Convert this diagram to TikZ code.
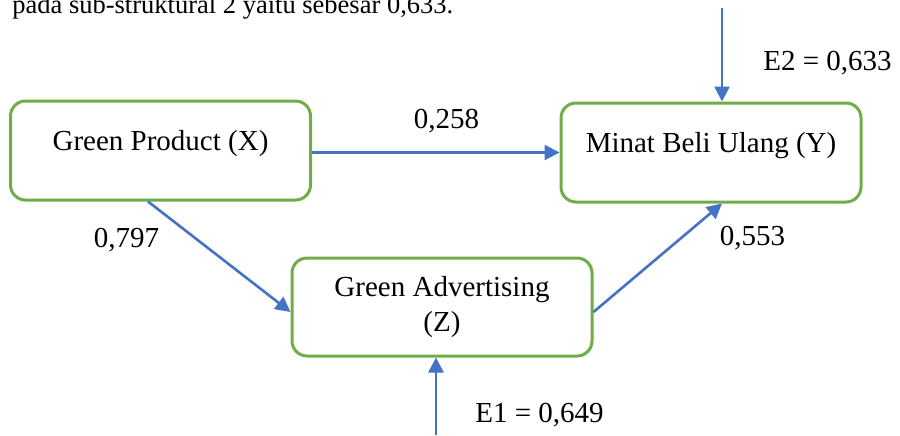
\documentclass[tikz,border=0pt]{standalone}
\usepackage{fontspec}
\setmainfont{Liberation Serif}
\usetikzlibrary{arrows.meta}
\definecolor{boxgreen}{HTML}{70AD47}
\definecolor{arrblue}{HTML}{4472C4}
\tikzset{
  varbox/.style={draw=boxgreen, line width=1.5pt, rounded corners=7.5pt,
    minimum width=150pt, minimum height=49.5pt, align=center, inner sep=2pt,
    font=\fontsize{14.5pt}{17.5pt}\selectfont},
  topbox/.style={varbox, text height=10pt, text depth=10.5pt},
  arr/.style={draw=arrblue, line width=1.3pt, -{Triangle[length=7.5pt,width=7.5pt]}},
  lbl/.style={inner sep=0pt, font=\fontsize{14.5pt}{17.5pt}\selectfont}
}
\begin{document}
\begin{tikzpicture}[x=0.5pt,y=-0.5pt]
\clip (0,0) rectangle (900,435);
\fill[white] (0,0) rectangle (900,435);
% top text (cut off by the page edge, as in the reference)
\node[inner sep=0pt, anchor=base west, font=\fontsize{13.25pt}{16pt}\selectfont] (top) at (12,13) {pada sub-struktural 2 yaitu sebesar 0,633.};
% boxes
\node[topbox] (X) at (160.5,150.5) {Green Product (X)};
\node[topbox] (Y) at (711,152.5) {Minat Beli Ulang (Y)};
\node[varbox, minimum height=49pt] (Z) at (442,307) {Green Advertising\\(Z)};
% free ends of error arrows
\coordinate (e2) at (722,8);
\coordinate (e1) at (436,435);
% connectors
\draw[arr] (X.east |- Y.west) -- (Y.west);
\draw[arr] ([xshift=-6.25pt]X.south) -- ([yshift=-2.5pt]Z.west);
\draw[arr] ([yshift=-2.5pt]Z.east) -- ([xshift=5.5pt]Y.south);
\draw[arr] (e2) -- (Y.north -| e2);
\draw[arr] (e1) -- (Z.south -| e1);
% labels
\node[lbl, anchor=base] (l258) at (446.5,128) {0,258};
\node[lbl, anchor=base] (l797) at (126.5,247) {0,797};
\node[lbl, anchor=base] (l553) at (752.5,245) {0,553};
\node[lbl, anchor=base west] (lE2) at (763,70) {E2 = 0,633};
\node[lbl, anchor=base west] (lE1) at (475,422) {E1 = 0,649};
\end{tikzpicture}
\end{document}
